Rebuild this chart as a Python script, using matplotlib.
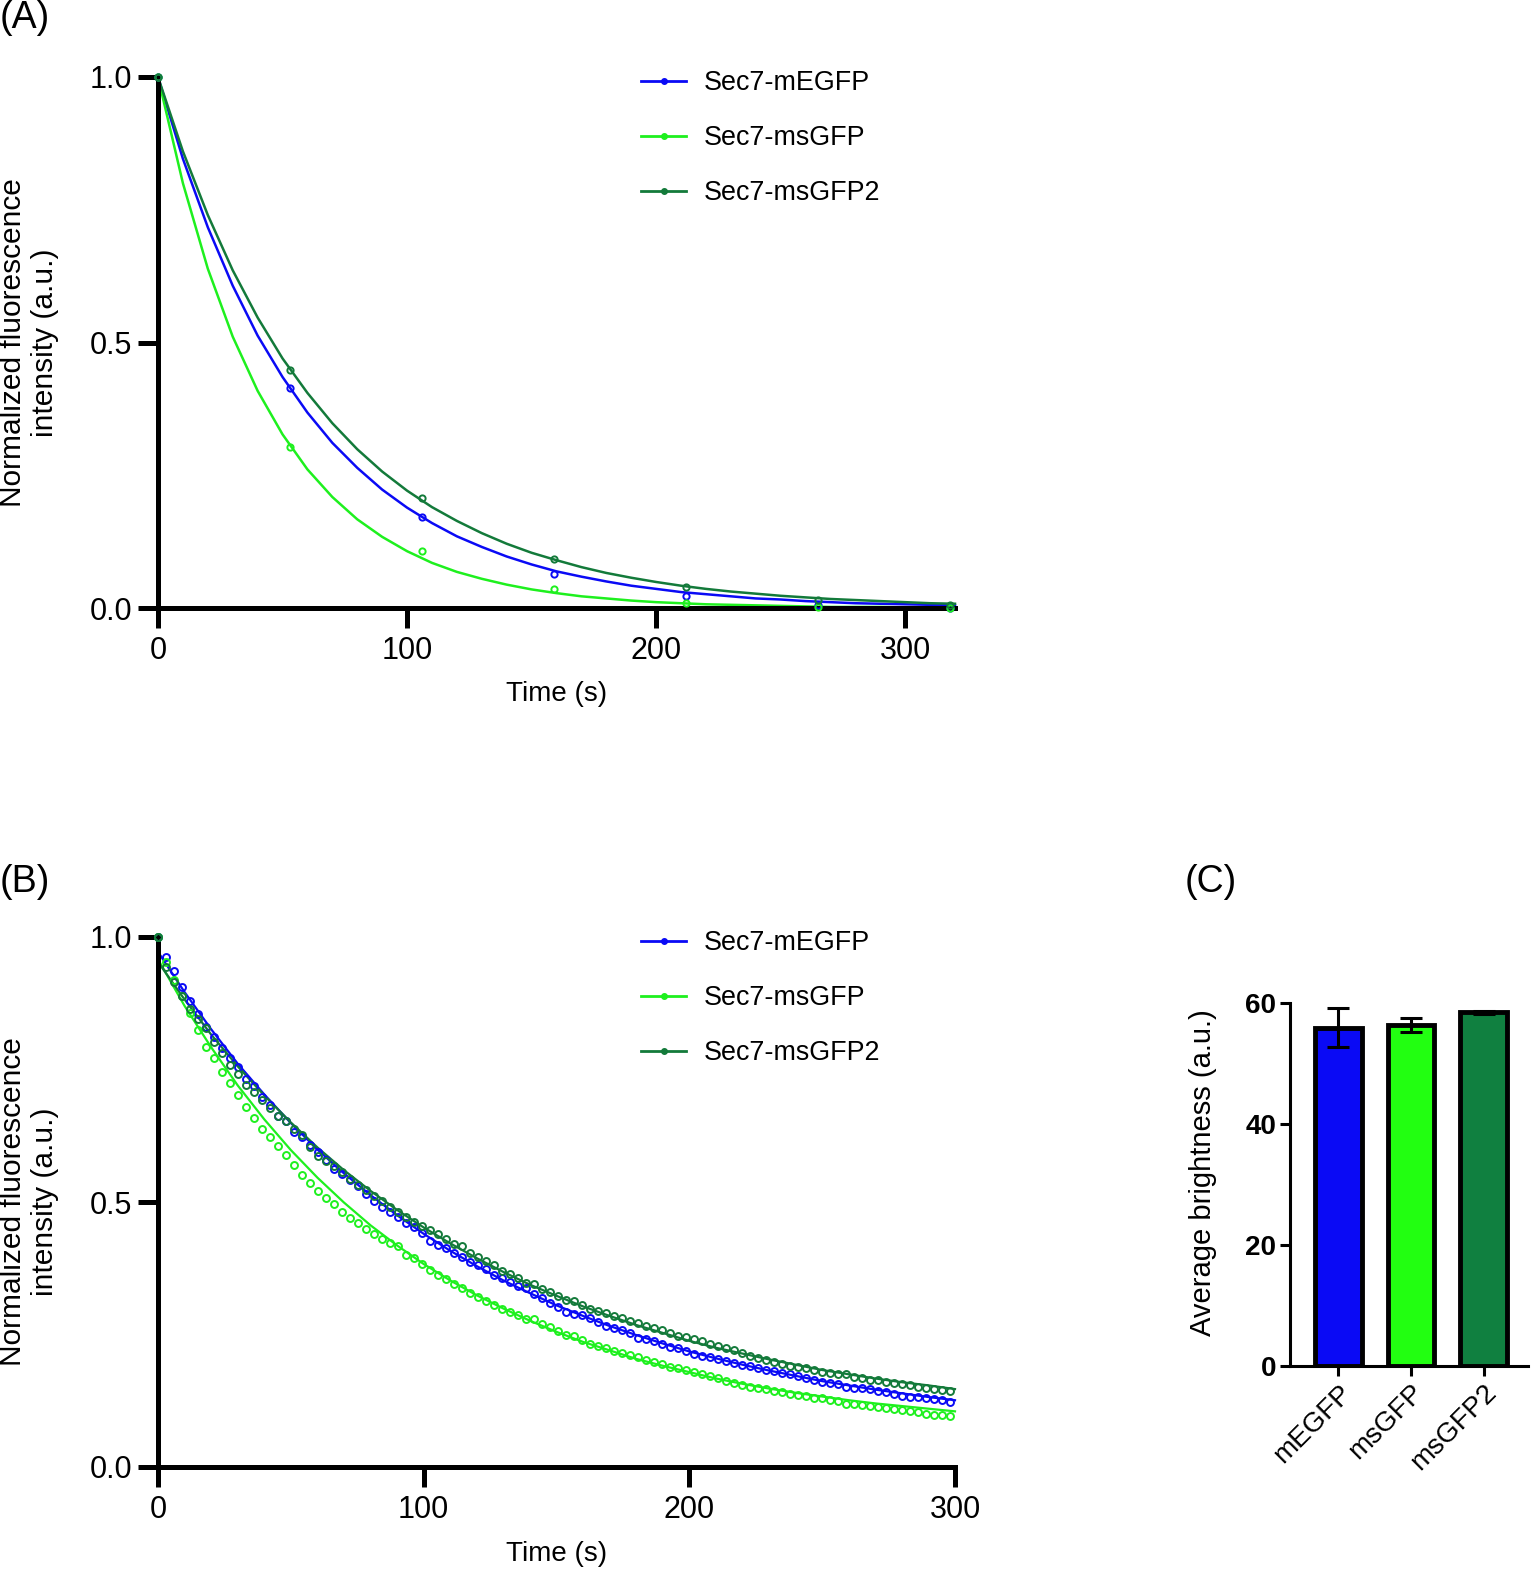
import matplotlib.pyplot as plt
from matplotlib.lines import Line2D
import numpy as np

plt.rcParams['font.family'] = ['Liberation Sans', 'DejaVu Sans']

labels = ['Sec7-mEGFP', 'Sec7-msGFP', 'Sec7-msGFP2']
colors = ['#0A0AF5', '#1EF01E', '#137A3A']

# panel A: photobleaching, sparse sampling
time_a = [0, 53, 106, 159, 212, 265, 318]
a_megfp = [1.0, 0.414, 0.171, 0.064, 0.022, 0.005, 0.0]
a_msgfp = [1.0, 0.304, 0.107, 0.035, 0.009, 0.001, 0.0]
a_msgfp2 = [1.0, 0.448, 0.208, 0.092, 0.039, 0.016, 0.006]

# fitted curves, every 10 s
fit_time_a = np.arange(0, 321, 10)
fit_a_megfp = [1.000, 0.846, 0.717, 0.607, 0.513, 0.435, 0.368, 0.311, 0.264, 0.223,
               0.189, 0.160, 0.135, 0.115, 0.097, 0.082, 0.069, 0.059, 0.050, 0.042,
               0.036, 0.030, 0.026, 0.022, 0.018, 0.016, 0.013, 0.011, 0.009, 0.008,
               0.007, 0.006, 0.005]
fit_a_msgfp = [1.000, 0.800, 0.639, 0.511, 0.409, 0.327, 0.261, 0.209, 0.167, 0.134,
               0.107, 0.085, 0.068, 0.055, 0.044, 0.035, 0.028, 0.022, 0.018, 0.014,
               0.011, 0.009, 0.007, 0.006, 0.005, 0.004, 0.003, 0.002, 0.002, 0.002,
               0.001, 0.001, 0.001]
fit_a_msgfp2 = [1.000, 0.860, 0.740, 0.636, 0.547, 0.470, 0.405, 0.348, 0.299, 0.257,
                0.221, 0.190, 0.164, 0.141, 0.121, 0.104, 0.090, 0.077, 0.066, 0.057,
                0.049, 0.042, 0.036, 0.031, 0.027, 0.023, 0.020, 0.017, 0.015, 0.013,
                0.011, 0.009, 0.008]

# panel B: photobleaching, dense sampling (~3 s)
time_b = np.arange(100) * 3.01
b_megfp = [1.000, 0.963, 0.935, 0.906, 0.880, 0.855, 0.831, 0.811, 0.790, 0.771,
           0.754, 0.733, 0.718, 0.699, 0.683, 0.663, 0.652, 0.633, 0.622, 0.608,
           0.595, 0.579, 0.562, 0.553, 0.542, 0.530, 0.516, 0.502, 0.491, 0.481,
           0.471, 0.461, 0.452, 0.441, 0.427, 0.418, 0.413, 0.404, 0.397, 0.387,
           0.381, 0.373, 0.362, 0.356, 0.350, 0.342, 0.337, 0.327, 0.319, 0.309,
           0.301, 0.293, 0.289, 0.287, 0.281, 0.274, 0.266, 0.263, 0.258, 0.253,
           0.243, 0.241, 0.238, 0.233, 0.227, 0.224, 0.218, 0.214, 0.210, 0.207,
           0.203, 0.200, 0.196, 0.192, 0.191, 0.187, 0.183, 0.181, 0.178, 0.175,
           0.172, 0.167, 0.165, 0.161, 0.158, 0.156, 0.151, 0.150, 0.150, 0.147,
           0.144, 0.142, 0.137, 0.134, 0.133, 0.132, 0.131, 0.128, 0.126, 0.123]
b_msgfp = [1.000, 0.953, 0.919, 0.889, 0.856, 0.825, 0.793, 0.772, 0.746, 0.725,
           0.701, 0.680, 0.658, 0.638, 0.622, 0.606, 0.588, 0.570, 0.551, 0.535,
           0.521, 0.507, 0.496, 0.482, 0.469, 0.460, 0.450, 0.440, 0.431, 0.423,
           0.417, 0.400, 0.394, 0.383, 0.372, 0.362, 0.354, 0.345, 0.337, 0.329,
           0.321, 0.314, 0.306, 0.299, 0.293, 0.287, 0.280, 0.279, 0.269, 0.265,
           0.257, 0.250, 0.247, 0.240, 0.233, 0.229, 0.224, 0.218, 0.215, 0.211,
           0.208, 0.202, 0.198, 0.194, 0.189, 0.186, 0.183, 0.179, 0.175, 0.172,
           0.167, 0.162, 0.158, 0.155, 0.151, 0.150, 0.147, 0.144, 0.141, 0.138,
           0.135, 0.134, 0.131, 0.131, 0.126, 0.125, 0.119, 0.119, 0.117, 0.115,
           0.114, 0.111, 0.109, 0.108, 0.106, 0.104, 0.100, 0.099, 0.098, 0.097]
b_msgfp2 = [1.000, 0.943, 0.916, 0.889, 0.864, 0.845, 0.828, 0.801, 0.781, 0.758,
            0.742, 0.721, 0.707, 0.692, 0.677, 0.662, 0.652, 0.638, 0.626, 0.604,
            0.587, 0.578, 0.567, 0.556, 0.544, 0.532, 0.523, 0.512, 0.501, 0.491,
            0.482, 0.472, 0.463, 0.455, 0.447, 0.440, 0.430, 0.421, 0.417, 0.404,
            0.397, 0.389, 0.381, 0.370, 0.364, 0.356, 0.348, 0.345, 0.335, 0.331,
            0.323, 0.316, 0.313, 0.306, 0.299, 0.294, 0.290, 0.284, 0.281, 0.276,
            0.271, 0.266, 0.263, 0.258, 0.253, 0.247, 0.246, 0.241, 0.238, 0.233,
            0.228, 0.225, 0.221, 0.216, 0.210, 0.206, 0.201, 0.199, 0.194, 0.191,
            0.188, 0.186, 0.183, 0.180, 0.178, 0.175, 0.175, 0.170, 0.167, 0.165,
            0.164, 0.161, 0.159, 0.156, 0.155, 0.151, 0.150, 0.148, 0.145, 0.144]

fit_time_b = np.arange(0, 301, 10)
fit_b_megfp = [0.972, 0.896, 0.826, 0.761, 0.703, 0.649, 0.599, 0.554, 0.513, 0.475,
               0.440, 0.408, 0.379, 0.352, 0.328, 0.305, 0.285, 0.266, 0.249, 0.233,
               0.218, 0.205, 0.193, 0.182, 0.172, 0.162, 0.154, 0.146, 0.139, 0.132,
               0.126]
fit_b_msgfp = [0.958, 0.870, 0.792, 0.720, 0.656, 0.598, 0.546, 0.499, 0.456, 0.418,
               0.383, 0.352, 0.324, 0.299, 0.276, 0.255, 0.236, 0.220, 0.204, 0.191,
               0.179, 0.167, 0.157, 0.148, 0.140, 0.133, 0.126, 0.120, 0.115, 0.110,
               0.105]
fit_b_msgfp2 = [0.953, 0.882, 0.816, 0.756, 0.701, 0.650, 0.603, 0.560, 0.521, 0.485,
                0.452, 0.422, 0.394, 0.368, 0.344, 0.323, 0.303, 0.285, 0.268, 0.253,
                0.238, 0.225, 0.214, 0.203, 0.193, 0.183, 0.175, 0.167, 0.160, 0.154,
                0.147]

# panel C: brightness
proteins = ['mEGFP', 'msGFP', 'msGFP2']
brightness = [55.9, 56.3, 58.4]
brightness_err = [3.2, 1.2, 0.3]
bar_colors = ['#0A0AF5', '#22FF11', '#108040']

W, H = 1533, 1573
fig = plt.figure(figsize=(W / 100, H / 100), dpi=100)


def curve_panel(rect, xmax, t, series, ft, fits, msize, lw):
    ax = fig.add_axes(rect)
    for y, fy, c in zip(series, fits, colors):
        ax.plot(ft, fy, color=c, lw=lw, clip_on=False, zorder=2)
        ax.plot(t, y, ls='none', marker='o', ms=msize, mfc='none', mec=c,
                mew=1.4, clip_on=False, zorder=3)
    ax.set_xlim(0, xmax)
    ax.set_ylim(0, 1.0)
    ax.set_xticks([0, 100, 200, 300])
    ax.set_yticks([0, 0.5, 1.0])
    ax.set_yticklabels(['0.0', '0.5', '1.0'])
    for s in ['top', 'right']:
        ax.spines[s].set_visible(False)
    for s in ['left', 'bottom']:
        ax.spines[s].set_linewidth(3.6)
    ax.tick_params(length=14.5, width=3.6, labelsize=22, pad=4)
    ax.tick_params(axis='x', pad=6)
    handles = [Line2D([], [], color=c, lw=2, marker='o', ms=4) for c in colors]
    ax.legend(handles, labels, loc='upper left', bbox_to_anchor=(0.592, 1.033),
              frameon=False, fontsize=19.4, handlelength=1.7, handletextpad=0.65,
              labelspacing=1.08, borderaxespad=0)
    return ax


ax_a = curve_panel([158 / W, 1 - 608 / H, 797 / W, 531 / H], 320, time_a,
                   [a_megfp, a_msgfp, a_msgfp2], fit_time_a,
                   [fit_a_megfp, fit_a_msgfp, fit_a_msgfp2], 4.5, 1.8)
ax_b = curve_panel([158 / W, 1 - 1467 / H, 797 / W, 530 / H], 300, time_b,
                   [b_megfp, b_msgfp, b_msgfp2], fit_time_b,
                   [fit_b_megfp, fit_b_msgfp, fit_b_msgfp2], 5, 1.6)

ylab = 'Normalized fluorescence\nintensity (a.u.)'
fig.text(29 / W, 1 - 343 / H, ylab, rotation=90, ha='center', va='center', fontsize=21.5)
fig.text(29 / W, 1 - 1202 / H, ylab, rotation=90, ha='center', va='center', fontsize=21.5)
fig.text(557 / W, 1 - 694 / H, 'Time (s)', ha='center', va='center', fontsize=20)
fig.text(557 / W, 1 - 1554 / H, 'Time (s)', ha='center', va='center', fontsize=20)

ax_c = fig.add_axes([1290 / W, 1 - 1366 / H, 238 / W, 363.3 / H])
xc = np.arange(len(proteins))
ax_c.bar(xc, brightness, width=0.64, color=bar_colors, edgecolor='black',
         linewidth=3.5, zorder=2)
ax_c.errorbar(xc, brightness, yerr=brightness_err, fmt='none', ecolor='black',
              elinewidth=2.2, capsize=7.8, capthick=2.2, zorder=3)
ax_c.set_xlim(-0.665, 2.61)
ax_c.set_ylim(0, 60)
ax_c.set_yticks([0, 20, 40, 60])
ax_c.set_xticks(xc)
ax_c.set_xticklabels(proteins, rotation=45, ha='right', rotation_mode='anchor',
                     fontsize=20)
for lab in ax_c.get_yticklabels():
    lab.set_fontweight('bold')
    lab.set_fontsize(20)
for s in ['top', 'right']:
    ax_c.spines[s].set_visible(False)
for s in ['left', 'bottom']:
    ax_c.spines[s].set_linewidth(2.2)
ax_c.tick_params(length=7, width=2.2, pad=3)
fig.text(1203 / W, 1 - 1173 / H, 'Average brightness (a.u.)', rotation=90,
         ha='center', va='center', fontsize=21)

fig.text(0.0, 1.0, '(A)', ha='left', va='top', fontsize=27)
fig.text(0.0, 1 - 864 / H, '(B)', ha='left', va='top', fontsize=27)
fig.text(1185 / W, 1 - 864 / H, '(C)', ha='left', va='top', fontsize=27)

fig.savefig('out.png', dpi=100)
